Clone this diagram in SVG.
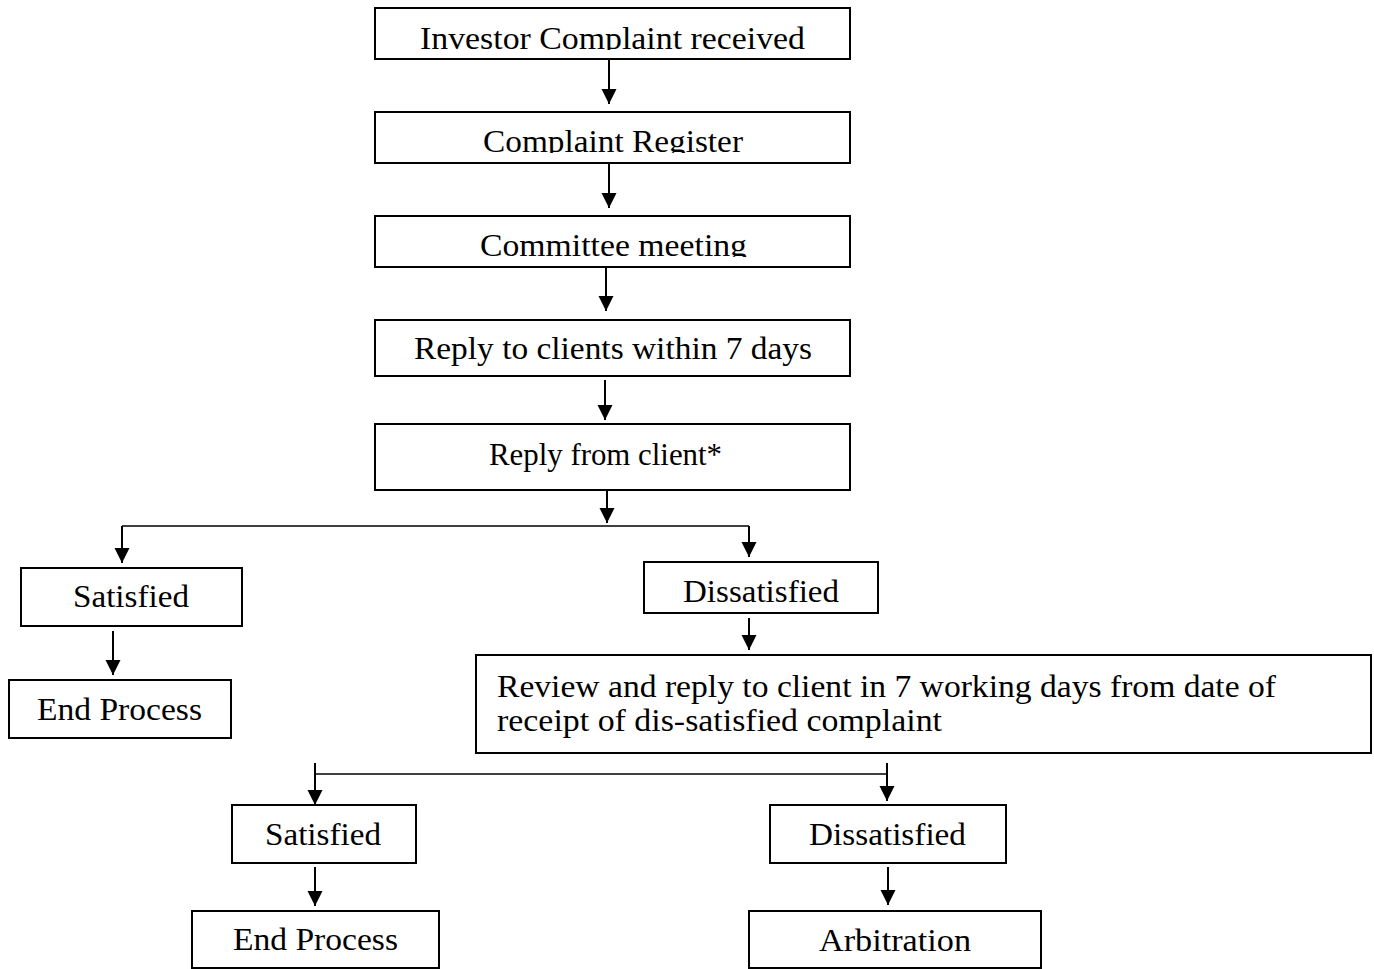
<svg xmlns="http://www.w3.org/2000/svg" width="1374" height="969" viewBox="0 0 1374 969">
<style>
.box{fill:#fff;stroke:#000;stroke-width:2}
.t{font-family:"Liberation Serif","DejaVu Serif",serif;font-size:31px;fill:#000}
.c{fill:none;stroke:#000;stroke-width:2}
.h{fill:none;stroke:#000;stroke-width:1.6}
</style>
<defs>
<marker id="ah" markerUnits="userSpaceOnUse" markerWidth="17" markerHeight="17" viewBox="0 0 17 17" refX="16" refY="8.5" orient="auto">
<path d="M1,1 L16,8.5 L1,16 Z" fill="#000"/>
</marker>
<clipPath id="k1"><rect x="376" y="9" width="473" height="41"/></clipPath>
<clipPath id="k2"><rect x="376" y="113" width="473" height="40"/></clipPath>
<clipPath id="k3"><rect x="376" y="217" width="473" height="40"/></clipPath>
</defs>
<g id="connectors">
<path class="c" d="M609,60 V104" marker-end="url(#ah)"/>
<path class="c" d="M609,164 V208" marker-end="url(#ah)"/>
<path class="c" d="M606,268 V311" marker-end="url(#ah)"/>
<path class="c" d="M605,380 V420" marker-end="url(#ah)"/>
<path class="c" d="M607,491 V523" marker-end="url(#ah)"/>
<path class="h" d="M122,526 H749"/>
<path class="c" d="M122,526 V563" marker-end="url(#ah)"/>
<path class="c" d="M749,526 V557" marker-end="url(#ah)"/>
<path class="c" d="M113,631 V675" marker-end="url(#ah)"/>
<path class="c" d="M749,618 V650" marker-end="url(#ah)"/>
<path class="h" d="M315,774 H887"/>
<path class="c" d="M315,763 V805" marker-end="url(#ah)"/>
<path class="c" d="M887,763 V801" marker-end="url(#ah)"/>
<path class="c" d="M315,867 V906" marker-end="url(#ah)"/>
<path class="c" d="M888,867 V905" marker-end="url(#ah)"/>
</g>
<g id="n1"><rect class="box" x="375" y="8" width="475" height="51"/><text class="t" x="420" y="49" textLength="385" lengthAdjust="spacingAndGlyphs" clip-path="url(#k1)">Investor Complaint received</text></g>
<g id="n2"><rect class="box" x="375" y="112" width="475" height="51"/><text class="t" x="483" y="152" textLength="260" lengthAdjust="spacingAndGlyphs" clip-path="url(#k2)">Complaint Register</text></g>
<g id="n3"><rect class="box" x="375" y="216" width="475" height="51"/><text class="t" x="480" y="256" textLength="267" lengthAdjust="spacingAndGlyphs" clip-path="url(#k3)">Committee meeting</text></g>
<g id="n4"><rect class="box" x="375" y="320" width="475" height="56"/><text class="t" x="414" y="359" textLength="398" lengthAdjust="spacingAndGlyphs">Reply to clients within 7 days</text></g>
<g id="n5"><rect class="box" x="375" y="424" width="475" height="66"/><text class="t" x="489" y="465" textLength="233" lengthAdjust="spacingAndGlyphs">Reply from client*</text></g>
<g id="n6"><rect class="box" x="21" y="568" width="221" height="58"/><text class="t" x="73" y="607" textLength="116" lengthAdjust="spacingAndGlyphs">Satisfied</text></g>
<g id="n7"><rect class="box" x="9" y="680" width="222" height="58"/><text class="t" x="37" y="720" textLength="165" lengthAdjust="spacingAndGlyphs">End Process</text></g>
<g id="n8"><rect class="box" x="644" y="562" width="234" height="51"/><text class="t" x="683" y="602" textLength="156" lengthAdjust="spacingAndGlyphs">Dissatisfied</text></g>
<g id="n9"><rect class="box" x="476" y="655" width="895" height="98"/><text class="t" x="497" y="697" textLength="779" lengthAdjust="spacingAndGlyphs">Review and reply to client in 7 working days from date of</text><text class="t" x="497" y="731" textLength="445" lengthAdjust="spacingAndGlyphs">receipt of dis-satisfied complaint</text></g>
<g id="n10"><rect class="box" x="232" y="805" width="184" height="58"/><text class="t" x="265" y="845" textLength="116" lengthAdjust="spacingAndGlyphs">Satisfied</text></g>
<g id="n11"><rect class="box" x="770" y="805" width="236" height="58"/><text class="t" x="809" y="845" textLength="157" lengthAdjust="spacingAndGlyphs">Dissatisfied</text></g>
<g id="n12"><rect class="box" x="192" y="911" width="247" height="57"/><text class="t" x="233" y="950" textLength="165" lengthAdjust="spacingAndGlyphs">End Process</text></g>
<g id="n13"><rect class="box" x="749" y="911" width="292" height="57"/><text class="t" x="819" y="951" textLength="152" lengthAdjust="spacingAndGlyphs">Arbitration</text></g>
</svg>
